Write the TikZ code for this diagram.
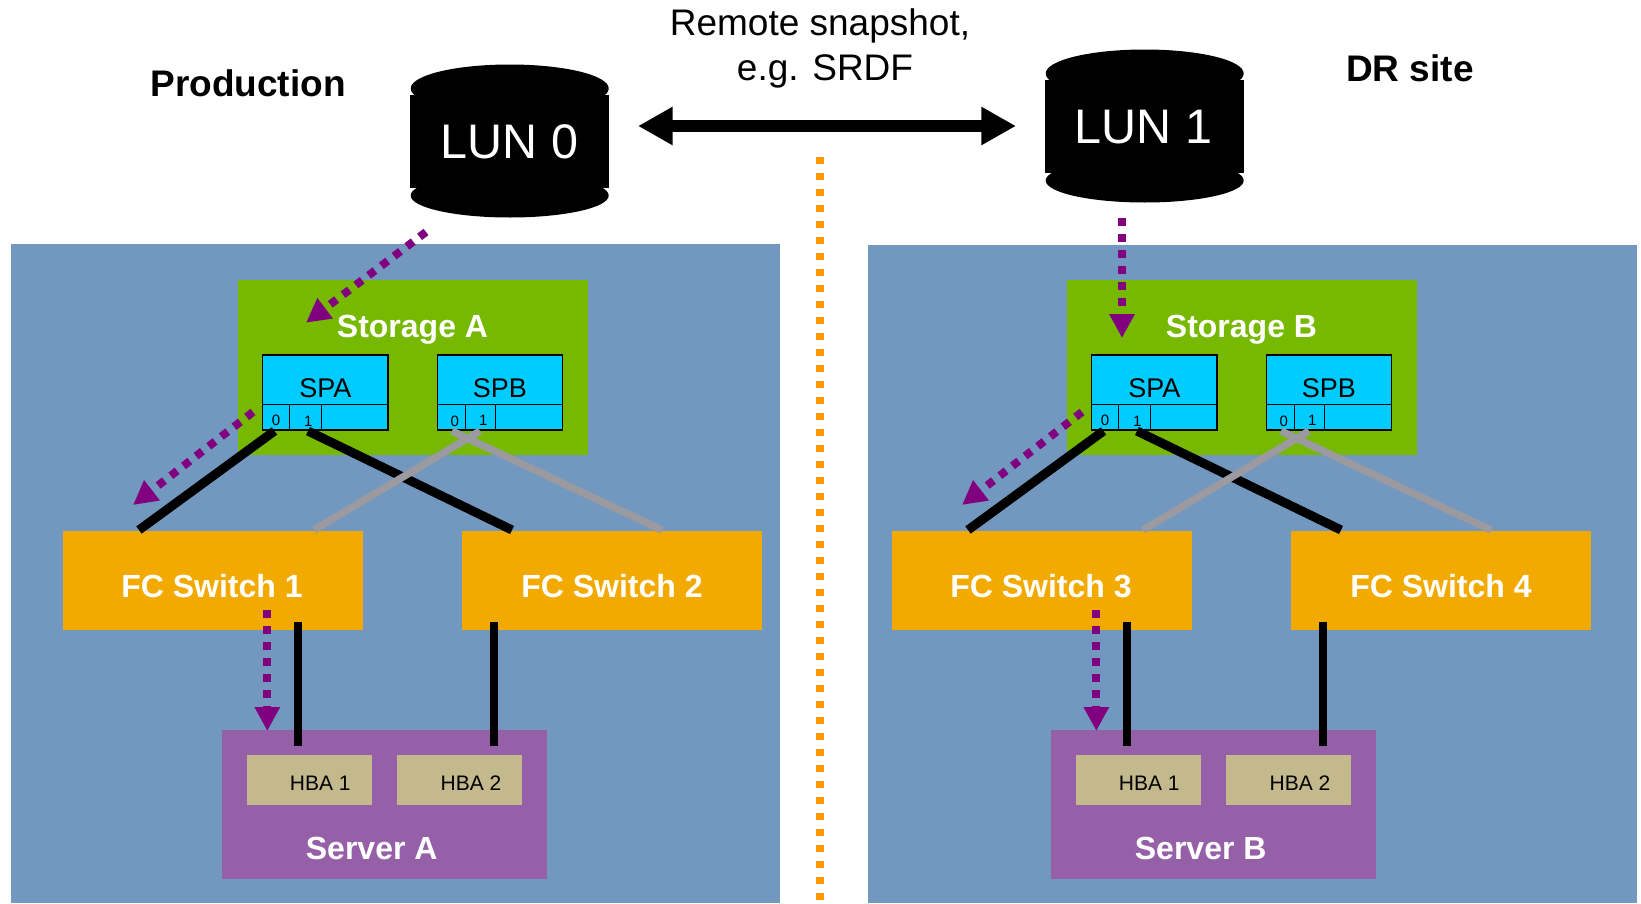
\documentclass[tikz,border=0pt]{standalone}
\usepackage{fontspec}
\setmainfont{Liberation Sans}
\usetikzlibrary{arrows.meta}
\definecolor{panelblue}{HTML}{7398C0}
\definecolor{storegreen}{HTML}{76B900}
\definecolor{spcyan}{HTML}{00CCFF}
\definecolor{switchorange}{HTML}{F2AA00}
\definecolor{serverpurple}{HTML}{9560A8}
\definecolor{hbatan}{HTML}{C4B98C}
\definecolor{flowpurple}{HTML}{800080}
\definecolor{divorange}{HTML}{FF9900}
\definecolor{linkgrey}{HTML}{9A9AA0}
\newcommand{\pxfont}[1]{\pgfmathsetmacro{\myfs}{#1*0.75}\fontsize{\myfs pt}{\myfs pt}\selectfont}
% \bx{name}{style}{x1}{y1}{x2}{y2}{text}
\newcommand{\bx}[7]{\node[#2,minimum width={(#5-#3)*0.75pt},minimum height={(#6-#4)*0.75pt}] (#1) at ({(#3+#5)/2},{(#4+#6)/2}) {#7};}
% storage processor: prefix, x1, x2, x-div1, x-div2, label
\newcommand{\spunit}[6]{%
  \bx{#1}{spbox}{#2}{355}{#3}{404.7}{}
  \bx{#1p0}{spbox}{#2}{404.7}{#4}{430}{}
  \bx{#1p1}{spbox}{#4}{404.7}{#5}{430}{}
  \bx{#1p2}{spbox}{#5}{404.7}{#3}{430}{}
  \node[lbl] (#1t) at ({(#2+#3)/2},397.3) {\pxfont{27}#6};
}
% site: prefix, x offset, storage, server, switch a, switch b
\newcommand{\site}[6]{%
\begin{scope}[shift={(#2,0)}]
  \bx{#1store}{plain,fill=storegreen}{237.5}{279.5}{587.5}{455}{}
  \node[lbl,text=white] (#1storet) at (412.5,337) {\pxfont{32}\bfseries Storage #3};
  \spunit{#1spa}{262.7}{388}{289.7}{321.3}{SPA}
  \spunit{#1spb}{437.3}{562.3}{465.3}{495.7}{SPB}
  \node[lbl] (#1a0) at (276,425) {\pxfont{15}0};
  \node[lbl] (#1a1) at (308.3,426.5) {\pxfont{15}1};
  \node[lbl] (#1b0) at (454.7,426) {\pxfont{15}0};
  \node[lbl] (#1b1) at (483.3,425) {\pxfont{15}1};
  \bx{#1swa}{plain,fill=switchorange}{62.8}{530.6}{363}{629.8}{}
  \bx{#1swb}{plain,fill=switchorange}{461.7}{530.6}{762}{629.8}{}
  \node[lbl,text=white] (#1swat) at (212,597) {\pxfont{32}\bfseries FC Switch #5};
  \node[lbl,text=white] (#1swbt) at (612,597) {\pxfont{32}\bfseries FC Switch #6};
  \bx{#1srv}{plain,fill=serverpurple}{222}{729.7}{547}{879}{}
  \bx{#1hba}{plain,fill=hbatan}{247}{754.7}{372}{805}{}
  \bx{#1hbb}{plain,fill=hbatan}{397}{754.7}{521.5}{805}{}
  \node[lbl] (#1hbat) at (320.3,790.5) {\pxfont{21}HBA 1};
  \node[lbl] (#1hbbt) at (471,790.5) {\pxfont{21}HBA 2};
  \node[lbl,text=white] (#1srvt) at (371.7,859.5) {\pxfont{32}\bfseries Server #4};
  % connector end points
  \coordinate (#1A0) at (274.5,431);
  \coordinate (#1A1) at (308,431);
  \coordinate (#1B0) at (452,431);
  \coordinate (#1B1) at (480,431);
  \coordinate (#1SA1) at (139,530);
  \coordinate (#1SB1) at (512,530);
  \coordinate (#1SA2) at (314,530);
  \coordinate (#1SB2) at (662,530);
  \coordinate (#1SAd) at (297.7,621.7);
  \coordinate (#1HAu) at (297.7,746);
  \coordinate (#1SBd) at (494,621.7);
  \coordinate (#1HBu) at (494,746);
  \coordinate (#1Fa) at (253,412);
  \coordinate (#1Fb) at (133,505);
  \coordinate (#1Fc) at (267.3,610);
  \coordinate (#1Fd) at (267.3,731);
  \draw[blacklink] (#1A0) -- (#1SA1);
  \draw[blacklink] (#1A1) -- (#1SB1);
  \draw[greylink] (#1B1) -- (#1SA2);
  \draw[greylink] (#1B0) -- (#1SB2);
  \draw[hostlink] (#1SAd) -- (#1HAu);
  \draw[hostlink] (#1SBd) -- (#1HBu);
  \draw[flow] (#1Fa) -- (#1Fb);
  \draw[flow] (#1Fc) -- (#1Fd);
\end{scope}}
\tikzset{
  plain/.style={inner sep=0pt,outer sep=0pt,draw=none,rectangle},
  spbox/.style={plain,draw=black,line width=1.1pt,fill=spcyan},
  lbl/.style={anchor=base,inner sep=0pt,outer sep=0pt,text=black},
  blacklink/.style={line width=6.8pt,black},
  hostlink/.style={line width=6pt,black},
  greylink/.style={line width=5.5pt,linkgrey},
  flow/.style={line width=6pt,flowpurple,dash pattern=on 6pt off 6pt,-{Triangle[length=18pt,width=18pt]}},
  bigarrow/.style={line width=9pt,black,{Triangle[length=26pt,width=27pt]}-{Triangle[length=26pt,width=27pt]}},
  divider/.style={line width=6pt,divorange,dash pattern=on 5.5pt off 6.5pt},
}
\begin{document}
\begin{tikzpicture}[x=0.75pt,y=-0.75pt]
  \useasboundingbox (0,0) rectangle (1641,903);
  \fill[white] (0,0) rectangle (1641,903);
  \bx{panelL}{plain,fill=panelblue}{11}{244}{779.5}{903}{}
  \bx{panelR}{plain,fill=panelblue}{867.5}{245}{1637}{903}{}
  \coordinate (divT) at (819.5,157);
  \coordinate (divB) at (819.5,903);
  \draw[divider] (divT) -- (divB);

  % LUN drums
  \fill[black] (509.7,88.5) ellipse [x radius=99, y radius=24];
  \fill[black] (509.7,195.5) ellipse [x radius=99, y radius=22];
  \fill[black] (410.3,95) rectangle (609,188);
  \node[lbl,text=white] (lun0) at (509.4,158.5) {\pxfont{48.5}LUN 0};
  \fill[black] (1144.7,73.5) ellipse [x radius=99, y radius=24];
  \fill[black] (1144.7,180.5) ellipse [x radius=99, y radius=22];
  \fill[black] (1045.3,80) rectangle (1244,173);
  \node[lbl,text=white] (lun1) at (1143.4,143.5) {\pxfont{48.5}LUN 1};

  \site{l}{0}{A}{A}{1}{2}
  \site{r}{829}{B}{B}{3}{4}

  % top labels and arrows
  \node[lbl] (prod) at (248,96) {\pxfont{37}\bfseries Production};
  \node[lbl] (dr) at (1410,81) {\pxfont{37}\bfseries DR site};
  \node[lbl] (rem1) at (820,36) {\pxfont{37}Remote snapshot,};
  \node[lbl] (rem2) at (825,80) {\pxfont{37}e.g. SRDF};
  \coordinate (bigL) at (638,126);
  \coordinate (bigR) at (1016,126);
  \draw[bigarrow] (bigL) -- (bigR);

  \coordinate (f0a) at (426,232);
  \coordinate (f0b) at (306,322.7);
  \draw[flow] (f0a) -- (f0b);
  \coordinate (f1a) at (1122,218);
  \coordinate (f1b) at (1122,338);
  \draw[flow] (f1a) -- (f1b);
\end{tikzpicture}
\end{document}
